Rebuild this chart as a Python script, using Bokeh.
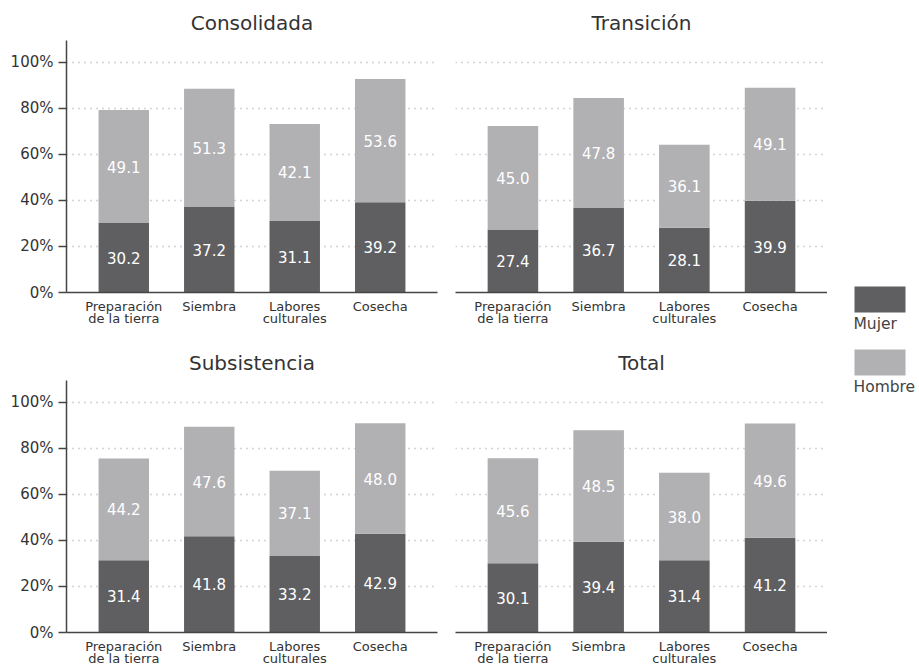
from bokeh.plotting import figure
from bokeh.layouts import row, column
from bokeh.models import FactorRange, Range1d, FixedTicker, ColumnDataSource
from bokeh.core.properties import value
from bokeh.embed import file_html
from bokeh.resources import INLINE

# ---- data ----
tick_labels = ["Preparación\nde la tierra", "Siembra", "Labores\nculturales", "Cosecha"]
panels = ["Consolidada", "Transición", "Subsistencia", "Total"]
mujer_consolidada = [30.2, 37.2, 31.1, 39.2]
hombre_consolidada = [49.1, 51.3, 42.1, 53.6]
mujer_transicion = [27.4, 36.7, 28.1, 39.9]
hombre_transicion = [45.0, 47.8, 36.1, 49.1]
mujer_subsistencia = [31.4, 41.8, 33.2, 42.9]
hombre_subsistencia = [44.2, 47.6, 37.1, 48.0]
mujer_total = [30.1, 39.4, 31.4, 41.2]
hombre_total = [45.6, 48.5, 38.0, 49.6]
y_ticks = [0, 20, 40, 60, 80, 100]
y_tick_labels = ["0%", "20%", "40%", "60%", "80%", "100%"]
series = ["Mujer", "Hombre"]

C_MUJER = "#5f5f62"
C_HOMBRE = "#b1b1b4"
FONT = "DejaVu Sans"
TXT = "#333333"


def panel(title, mujer, hombre, width, height, left, right, top, bottom, show_y):
    p = figure(
        x_range=FactorRange(*tick_labels, range_padding=0.17, range_padding_units="absolute"),
        y_range=Range1d(0, 109.5),
        width=width, height=height,
        min_border_left=left, min_border_right=right,
        min_border_top=top, min_border_bottom=bottom,
        output_backend="svg", toolbar_location=None,
        y_axis_location="left" if show_y else None,
    )
    src = ColumnDataSource(dict(
        x=tick_labels,
        m=mujer,
        h=hombre,
        top=[a + b for a, b in zip(mujer, hombre)],
        mc=[a / 2 for a in mujer],
        hc=[a + b / 2 for a, b in zip(mujer, hombre)],
        mt=[f"{v:.1f}" for v in mujer],
        ht=[f"{v:.1f}" for v in hombre],
    ))
    p.vbar(x="x", bottom=0, top="m", width=0.59, source=src, color=C_MUJER, line_color=None)
    p.vbar(x="x", bottom="m", top="top", width=0.59, source=src, color=C_HOMBRE, line_color=None)
    for col, tcol in (("mc", "mt"), ("hc", "ht")):
        p.text(x="x", y=col, text=tcol, source=src, text_color="white",
               text_font=value(FONT), text_font_size="15px",
               text_align="center", text_baseline="middle")

    p.title.text = title
    p.title.align = "center"
    p.title.text_font = FONT
    p.title.text_font_size = "20px"
    p.title.text_font_style = "normal"
    p.title.text_color = TXT
    p.title.standoff = 12

    p.outline_line_color = None
    p.background_fill_color = "white"
    p.xgrid.grid_line_color = None
    p.ygrid.ticker = FixedTicker(ticks=y_ticks[1:])
    p.ygrid.grid_line_color = "#a8a8a8"
    p.ygrid.grid_line_dash = "1 5"
    p.ygrid.grid_line_width = 1.5

    xa = p.xaxis[0]
    xa.axis_line_color = "#444444"
    xa.axis_line_width = 1.5
    xa.major_tick_line_color = None
    xa.minor_tick_line_color = None
    xa.major_label_text_font = FONT
    xa.major_label_text_font_size = "13px"
    xa.major_label_text_color = TXT
    xa.major_label_text_line_height = 0.82
    xa.major_label_standoff = 0

    if show_y:
        ya = p.yaxis[0]
        ya.ticker = FixedTicker(ticks=y_ticks)
        ya.major_label_overrides = {t: l for t, l in zip(y_ticks, y_tick_labels)}
        ya.axis_line_color = "#444444"
        ya.axis_line_width = 1.5
        ya.major_tick_line_color = "#444444"
        ya.major_tick_line_width = 1.5
        ya.major_tick_out = 8
        ya.major_tick_in = 0
        ya.minor_tick_line_color = None
        ya.major_label_text_font = FONT
        ya.major_label_text_font_size = "15px"
        ya.major_label_text_color = TXT
        ya.major_label_standoff = 5
    return p


p1 = panel(panels[0], mujer_consolidada, hombre_consolidada, 445, 340, 66, 8, 40, 48, True)
p2 = panel(panels[1], mujer_transicion, hombre_transicion, 382, 340, 10, 0, 40, 48, False)
p3 = panel(panels[2], mujer_subsistencia, hombre_subsistencia, 445, 329, 66, 8, 40, 37, True)
p4 = panel(panels[3], mujer_total, hombre_total, 382, 329, 10, 0, 40, 37, False)

# ---- legend (separate strip on the right) ----
leg = figure(width=92, height=665, x_range=Range1d(0, 92), y_range=Range1d(665, 0),
             min_border=0, output_backend="svg", toolbar_location=None,
             x_axis_location=None, y_axis_location=None)
leg.grid.visible = False
leg.outline_line_color = None
lsrc = ColumnDataSource(dict(
    x=[52.5, 52.5], y=[299, 362], c=[C_MUJER, C_HOMBRE],
    tx=[26, 26], ty=[323, 386], t=series,
))
leg.rect(x="x", y="y", width=51, height=26, color="c", line_color=None, source=lsrc)
leg.text(x="tx", y="ty", text="t", source=lsrc, text_color="#444444",
         text_font=value(FONT), text_font_size="15.5px",
         text_align="left", text_baseline="middle")

layout = row(column(p1, p3), column(p2, p4), leg,
             width=919, height=665, styles={"overflow": "hidden"})
open("out.html", "w").write(file_html(layout, INLINE))
